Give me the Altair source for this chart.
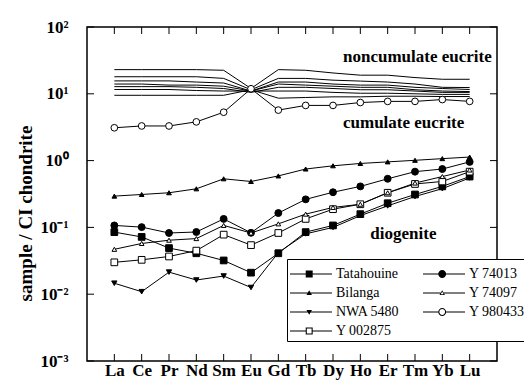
import altair as alt
import pandas as pd

elements = ["La", "Ce", "Pr", "Nd", "Sm", "Eu", "Gd", "Tb", "Dy", "Ho", "Er", "Tm", "Yb", "Lu"]

# diogenites / cumulate eucrite (CI-normalised)
tatahouine = [0.085, 0.072, 0.049, 0.041, 0.032, 0.021, 0.041, 0.085, 0.107, 0.158, 0.23, 0.311, 0.411, 0.577]
bilanga = [0.294, 0.311, 0.33, 0.378, 0.534, 0.487, 0.59, 0.748, 0.836, 0.906, 0.957, 1.01, 1.07, 1.13]
nwa5480 = [0.0146, 0.0109, 0.0214, 0.0163, 0.0187, 0.0126, 0.042, 0.08, 0.1, 0.15, 0.21, 0.29, 0.38, 0.55]
y002875 = [0.030, 0.0327, 0.0367, 0.0449, 0.0779, 0.0543, 0.0825, 0.134, 0.1875, 0.222, 0.33, 0.447, 0.487, 0.683]
y74013 = [0.107, 0.101, 0.0825, 0.0853, 0.134, 0.083, 0.164, 0.263, 0.336, 0.411, 0.534, 0.683, 0.748, 0.957]
y74097 = [0.047, 0.0575, 0.0643, 0.068, 0.107, 0.0825, 0.113, 0.158, 0.199, 0.222, 0.33, 0.461, 0.577, 0.723]
y980433 = [3.1, 3.3, 3.3, 3.8, 5.3, 11.9, 5.7, 6.7, 6.7, 7.4, 7.7, 7.7, 8.2, 7.7]

# noncumulate eucrites (unlabelled lines)
nc1 = [23, 23, 23, 23, 22.5, 12, 23, 22.5, 20.5, 19, 19, 17.5, 16.5, 16.5]
nc2 = [18, 18, 18, 18, 17, 11.5, 17, 17, 16, 15.5, 15, 14, 12.5, 12.4]
nc3 = [15.6, 15.6, 15.6, 15, 14.5, 11, 15, 15, 14, 13.5, 13.5, 12.5, 12, 11.6]
nc4 = [14, 14, 13.5, 13.5, 13, 11, 14, 13.5, 13, 12.5, 12.5, 11.5, 11, 10.8]
nc5 = [12.8, 12.8, 12.8, 12.5, 12, 10.5, 12.5, 12.5, 12, 11.5, 11.5, 11, 10.5, 10.5]
nc6 = [11.6, 11.6, 11.6, 11.2, 11, 11, 11, 11, 10.5, 10.2, 10.2, 10, 9.8, 9.8]
nc7 = [9.5, 9.5, 9.5, 9.5, 9.5, 11.5, 8.6, 8.8, 9, 9, 9.2, 9.2, 9.1, 9.1]

# legend is filled column by column
legend_order = ["Tatahouine", "Bilanga", "NWA 5480", "Y 002875", "Y 74013", "Y 74097", "Y 980433"]
marked = {
    "Tatahouine": tatahouine, "Bilanga": bilanga, "NWA 5480": nwa5480, "Y 002875": y002875,
    "Y 74013": y74013, "Y 74097": y74097, "Y 980433": y980433,
}
unmarked = {"nc1": nc1, "nc2": nc2, "nc3": nc3, "nc4": nc4, "nc5": nc5, "nc6": nc6, "nc7": nc7}

decades = [0.001, 0.01, 0.1, 1, 10, 100]

notes = ["noncumulate eucrite", "cumulate eucrite", "diogenite"]
note_x = ["Dy", "Dy", "Ho"]
note_y = [36, 3.66, 0.0805]

rows = []
for name, vals in marked.items():
    for e, v in zip(elements, vals):
        rows.append({"series": name, "element": e, "value": v})
df_marked = pd.DataFrame(rows)
rows = []
for name, vals in unmarked.items():
    for e, v in zip(elements, vals):
        rows.append({"series": name, "element": e, "value": v})
df_nc = pd.DataFrame(rows)
df_dec = pd.DataFrame({"value": decades})
df_el = pd.DataFrame({"element": elements})
df_notes = pd.DataFrame({"text": notes, "element": note_x, "value": note_y})

W, H = 410, 334
SERIF = "Liberation Serif"

ylab = ("datum.value >= 99 ? '10²' : datum.value >= 9 ? '10¹' : datum.value >= 0.9 ? '10⁰' : "
        "datum.value >= 0.09 ? '10⁻¹' : datum.value >= 0.009 ? '10⁻²' : '10⁻³'")

x_enc = alt.X("element:N", sort=elements,
              scale=alt.Scale(type="point", domain=elements, padding=1),
              axis=alt.Axis(title=None, ticks=False, domain=False, grid=False,
                            labelFont=SERIF, labelFontWeight="bold", labelFontSize=17,
                            labelColor="black", labelPadding=1, labelAngle=0,
                            labelOverlap=False))
y_enc = alt.Y("value:Q",
              scale=alt.Scale(type="log", domain=[0.001, 100]),
              axis=alt.Axis(title="sample / CI chondrite", values=decades, labelExpr=ylab,
                            ticks=False, domain=False, grid=False,
                            labelFont=SERIF, labelFontWeight="bold", labelFontSize=17,
                            labelColor="black", labelPadding=19,
                            titleFont=SERIF, titleFontWeight="bold", titleFontSize=19,
                            titleColor="black", titleX=-62, titleY=186,
                            titleAlign="center", titleBaseline="middle", titleAngle=270))

# plot markers per series
marker_shape = {"Tatahouine": "square", "Bilanga": "triangle-up", "NWA 5480": "triangle-down",
                "Y 002875": "square", "Y 74013": "circle", "Y 74097": "triangle-up",
                "Y 980433": "circle"}
marker_fill = {"Tatahouine": "black", "Bilanga": "black", "NWA 5480": "black",
               "Y 002875": "white", "Y 74013": "black", "Y 74097": "white",
               "Y 980433": "white"}
marker_size = {"Tatahouine": 45, "Bilanga": 22, "NWA 5480": 28, "Y 002875": 45,
               "Y 74013": 48, "Y 74097": 22, "Y 980433": 45}


# legend symbols: filled paths (line drawn as a thin bar, hollow markers as rings)
def bar(x0, x1):
    return f"M{x0},-0.045H{x1}V0.045H{x0}Z"


SQ = "M0.31,-0.29H0.89V0.29H0.31Z"
SQ_IN = "M0.4,-0.2V0.2H0.8V-0.2Z"
CI = "M0.27,0A0.33,0.33 0 1,1 0.93,0A0.33,0.33 0 1,1 0.27,0Z"
CI_IN = "M0.36,0A0.24,0.24 0 1,0 0.84,0A0.24,0.24 0 1,0 0.36,0Z"
TU = "M0.6,-0.22L0.83,0.17H0.37Z"
TU_IN = "M0.6,-0.1L0.47,0.11H0.73Z"
TD = "M0.6,0.22L0.37,-0.17H0.83Z"

sq_f = bar(-1, 2.5) + SQ
sq_o = bar(-1, 0.31) + bar(0.89, 2.5) + SQ + SQ_IN
ci_f = bar(-1, 2.5) + CI
ci_o = bar(-1, 0.27) + bar(0.93, 2.5) + CI + CI_IN
tu_f = bar(-1, 2.5) + TU
tu_o = bar(-1, 0.47) + bar(0.73, 2.5) + TU + TU_IN
td_f = bar(-1, 2.5) + TD
shape_legend = [sq_f, tu_f, td_f, sq_o, ci_f, tu_o, ci_o]

nc_lines = alt.Chart(df_nc).mark_line(color="black", strokeWidth=1).encode(
    x=x_enc, y=y_enc, detail="series:N")
lines = alt.Chart(df_marked).mark_line(color="black", strokeWidth=1).encode(
    x=x_enc, y=y_enc, detail="series:N")

point_layers = []
for name in legend_order:
    point_layers.append(
        alt.Chart(df_marked).transform_filter(alt.datum.series == name).mark_point(
            shape=marker_shape[name], fill=marker_fill[name], size=marker_size[name],
            stroke="black", strokeWidth=1, opacity=1
        ).encode(x=x_enc, y=y_enc)
    )

legend_layer = alt.Chart(df_marked).mark_point(filled=True, color="black", opacity=0).encode(
    x=x_enc, y=y_enc,
    shape=alt.Shape("series:N", scale=alt.Scale(domain=legend_order, range=shape_legend),
                    legend=alt.Legend(title=None, orient="none", legendX=200, legendY=232,
                                      columns=2, columnPadding=23, rowPadding=0,
                                      symbolSize=576, symbolStrokeWidth=0, symbolOpacity=1,
                                      symbolFillColor="black",
                                      labelOffset=22,
                                      labelFont=SERIF, labelFontSize=14, labelColor="black",
                                      padding=3, strokeColor="black", fillColor="white")),
)

tick_l = alt.Chart(df_dec).mark_rule(color="black", strokeWidth=1).encode(
    y=y_enc, x=alt.value(0), x2=alt.value(7))
tick_r = alt.Chart(df_dec).mark_rule(color="black", strokeWidth=1).encode(
    y=y_enc, x=alt.value(W - 7), x2=alt.value(W))
tick_b = alt.Chart(df_el).mark_rule(color="black", strokeWidth=1).encode(
    x=x_enc, y=alt.value(H), y2=alt.value(H - 7))
tick_t = alt.Chart(df_el).mark_rule(color="black", strokeWidth=1).encode(
    x=x_enc, y=alt.value(0), y2=alt.value(7))

texts = alt.Chart(df_notes).mark_text(align="left", baseline="middle", dx=10, font=SERIF,
                                      fontWeight="bold", fontSize=17, color="black").encode(
    x=x_enc, y=y_enc, text="text:N")

chart = alt.layer(tick_l, tick_r, tick_b, tick_t, nc_lines, lines, *point_layers, texts,
                  legend_layer).properties(
    width=W, height=H,
    autosize=alt.AutoSizeParams(type="none"),
    padding={"left": 79, "top": 19, "right": 27, "bottom": 19},
    background="white",
).configure_view(stroke="black", strokeWidth=1.5)

chart.save("out.html", embed_options={"renderer": "svg", "actions": False})
